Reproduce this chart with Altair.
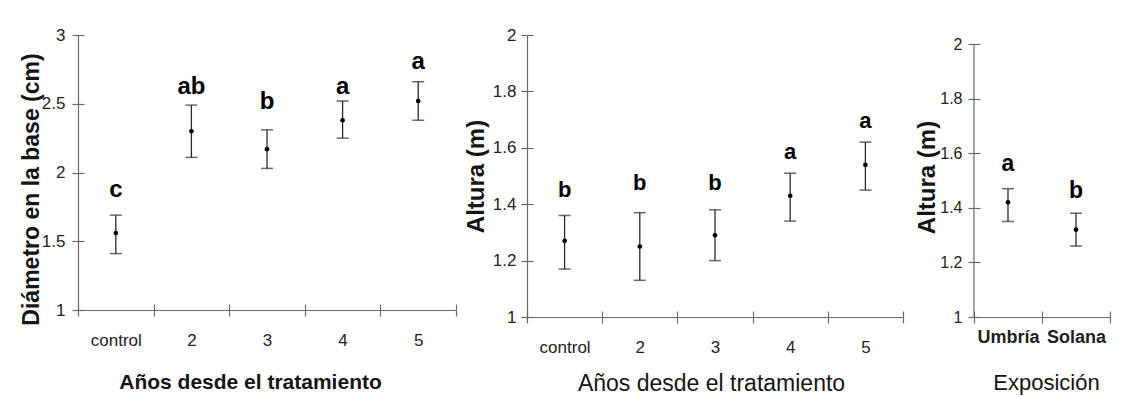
import altair as alt
import pandas as pd

# ---------------- data ----------------
cats1 = ["control", "2", "3", "4", "5"]
diam_mean = [1.56, 2.30, 2.17, 2.38, 2.52]
diam_low = [1.41, 2.11, 2.03, 2.25, 2.38]
diam_high = [1.69, 2.49, 2.31, 2.52, 2.66]
diam_letters = ["c", "ab", "b", "a", "a"]
diam_letter_y = [1.82, 2.57, 2.46, 2.57, 2.75]
diam_ticks = [1, 1.5, 2, 2.5, 3]

cats2 = ["control", "2", "3", "4", "5"]
alt_mean = [1.27, 1.25, 1.29, 1.43, 1.54]
alt_low = [1.17, 1.13, 1.20, 1.34, 1.45]
alt_high = [1.36, 1.37, 1.38, 1.51, 1.62]
alt_letters = ["b", "b", "b", "a", "a"]
alt_letter_y = [1.425, 1.45, 1.45, 1.56, 1.67]
alt_ticks = [1, 1.2, 1.4, 1.6, 1.8, 2]

cats3 = ["Umbría", "Solana"]
exp_mean = [1.42, 1.32]
exp_low = [1.35, 1.26]
exp_high = [1.47, 1.38]
exp_letters = ["a", "b"]
exp_letter_y = [1.535, 1.437]
exp_ticks = [1, 1.2, 1.4, 1.6, 1.8, 2]

FONT = "Liberation Sans"
AXC = "#6a6a6a"
BARC = "#2a2a2a"


def panel(cats, mean, low, high, letters, letter_y, ticks, width, height,
          ydom, ytitle, xtitle, xt, yt, lab_font=17, lab_weight="normal",
          lab_pad=14, x_title_size=21, x_title_weight="bold", letter_size=24,
          ylab_size=17, ylab_pad=6, y_title_size=23, hide_ydomain=False):
    df = pd.DataFrame({"cat": cats, "mean": mean, "low": low, "high": high,
                       "letter": letters, "ly": letter_y})
    xscale = alt.Scale(type="band", paddingInner=0, paddingOuter=0, domain=cats)
    yscale = alt.Scale(domain=ydom, nice=False, zero=False)

    xaxis = alt.Axis(title=xtitle, tickBand="extent", tickSize=6, labelAngle=0,
                     labelFontSize=lab_font, labelFontWeight=lab_weight,
                     labelPadding=lab_pad, titleFontSize=x_title_size,
                     titleFontWeight=x_title_weight, titleX=xt[0], titleY=xt[1],
                     titleBaseline="middle", titleAlign="center", domainWidth=1.2,
                     grid=False)
    yaxis = alt.Axis(title=ytitle, values=ticks, format="~g", tickSize=6,
                     labelFontSize=ylab_size, labelPadding=ylab_pad,
                     titleFontSize=y_title_size, titleFontWeight="bold",
                     titleX=yt[0], titleY=yt[1], titleBaseline="middle",
                     titleAlign="center", titleAngle=270, domain=not hide_ydomain,
                     domainWidth=1.2, grid=False)

    base = alt.Chart(df)
    bars = base.mark_rule(color=BARC, strokeWidth=1.3).encode(
        x=alt.X("cat:N", scale=xscale, axis=xaxis, sort=cats),
        y=alt.Y("low:Q", scale=yscale, axis=yaxis),
        y2="high:Q",
    )
    caps_lo = base.mark_tick(color=BARC, size=12, thickness=1.5).encode(
        x=alt.X("cat:N", scale=xscale, axis=None, sort=cats),
        y=alt.Y("low:Q", scale=yscale, axis=None),
    )
    caps_hi = base.mark_tick(color=BARC, size=12, thickness=1.5).encode(
        x=alt.X("cat:N", scale=xscale, axis=None, sort=cats),
        y=alt.Y("high:Q", scale=yscale, axis=None),
    )
    pts = base.mark_point(filled=True, color="black", size=22, opacity=1).encode(
        x=alt.X("cat:N", scale=xscale, axis=None, sort=cats),
        y=alt.Y("mean:Q", scale=yscale, axis=None),
    )
    txt = base.mark_text(font=FONT, fontSize=letter_size, fontWeight="bold",
                         baseline="alphabetic", color="black").encode(
        x=alt.X("cat:N", scale=xscale, axis=None, sort=cats),
        y=alt.Y("ly:Q", scale=yscale, axis=None),
        text="letter:N",
    )
    # inner halves of the crossing ticks
    inner = base.mark_point(opacity=0).encode(
        x=alt.X("cat:N", scale=xscale, sort=cats,
                axis=alt.Axis(orient="bottom", offset=-6, tickSize=6, labels=False,
                              domain=False, title=None, tickBand="extent",
                              grid=False)),
        y=alt.Y("mean:Q", scale=yscale,
                axis=alt.Axis(orient="left", offset=-6, tickSize=6, labels=False,
                              domain=False, title=None, values=ticks, grid=False)),
    )
    layers = [bars, caps_lo, caps_hi, pts, txt, inner]
    if hide_ydomain:
        dom = alt.Chart(pd.DataFrame({"a": [ticks[0]], "b": [ticks[-1]]})).mark_rule(
            color=AXC, strokeWidth=1.2).encode(
            y=alt.Y("a:Q", scale=yscale, axis=None), y2="b:Q", x=alt.value(0))
        layers.append(dom)
    return alt.layer(*layers).resolve_axis(x="independent", y="independent").properties(
        width=width, height=height)


p1 = panel(cats1, diam_mean, diam_low, diam_high, diam_letters, diam_letter_y,
           diam_ticks, 378, 275, [1, 3], "Diámetro en la base (cm)",
           "Años desde el tratamiento", xt=(172, 72), yt=(-47, 154),
           lab_font=17, lab_pad=16, x_title_size=21, x_title_weight="bold",
           letter_size=24, ylab_size=17, ylab_pad=7, y_title_size=23)

p2 = panel(cats2, alt_mean, alt_low, alt_high, alt_letters, alt_letter_y,
           alt_ticks, 376, 282, [1, 2], "Altura (m)",
           "Años desde el tratamiento", xt=(184, 66), yt=(-51, 141),
           lab_font=17, lab_pad=16, x_title_size=23, x_title_weight="normal",
           letter_size=22, ylab_size=17, ylab_pad=5, y_title_size=24)

p3_height = 282
p3 = panel(cats3, exp_mean, exp_low, exp_high, exp_letters, exp_letter_y,
           exp_ticks, 136, p3_height, [1, 1 + p3_height / 273.0], "Altura (m)",
           "Exposición", xt=(72, 65), yt=(-47, 142),
           lab_font=18, lab_weight="bold", lab_pad=5, x_title_size=22,
           x_title_weight="normal", letter_size=23, ylab_size=16, ylab_pad=6,
           y_title_size=24, hide_ydomain=True)

chart = alt.hconcat(p1, p2, p3, spacing=71, bounds="flush").properties(
    padding={"left": 11, "top": 18, "right": 0, "bottom": 0},
    background="white",
).configure_axis(
    domainColor=AXC, tickColor=AXC, labelColor="#222", titleColor="#151515",
    labelFont=FONT, titleFont=FONT, grid=False, tickWidth=1.2,
).configure_view(strokeWidth=0)

chart.save("out.html", embed_options={"renderer": "svg", "actions": False})
